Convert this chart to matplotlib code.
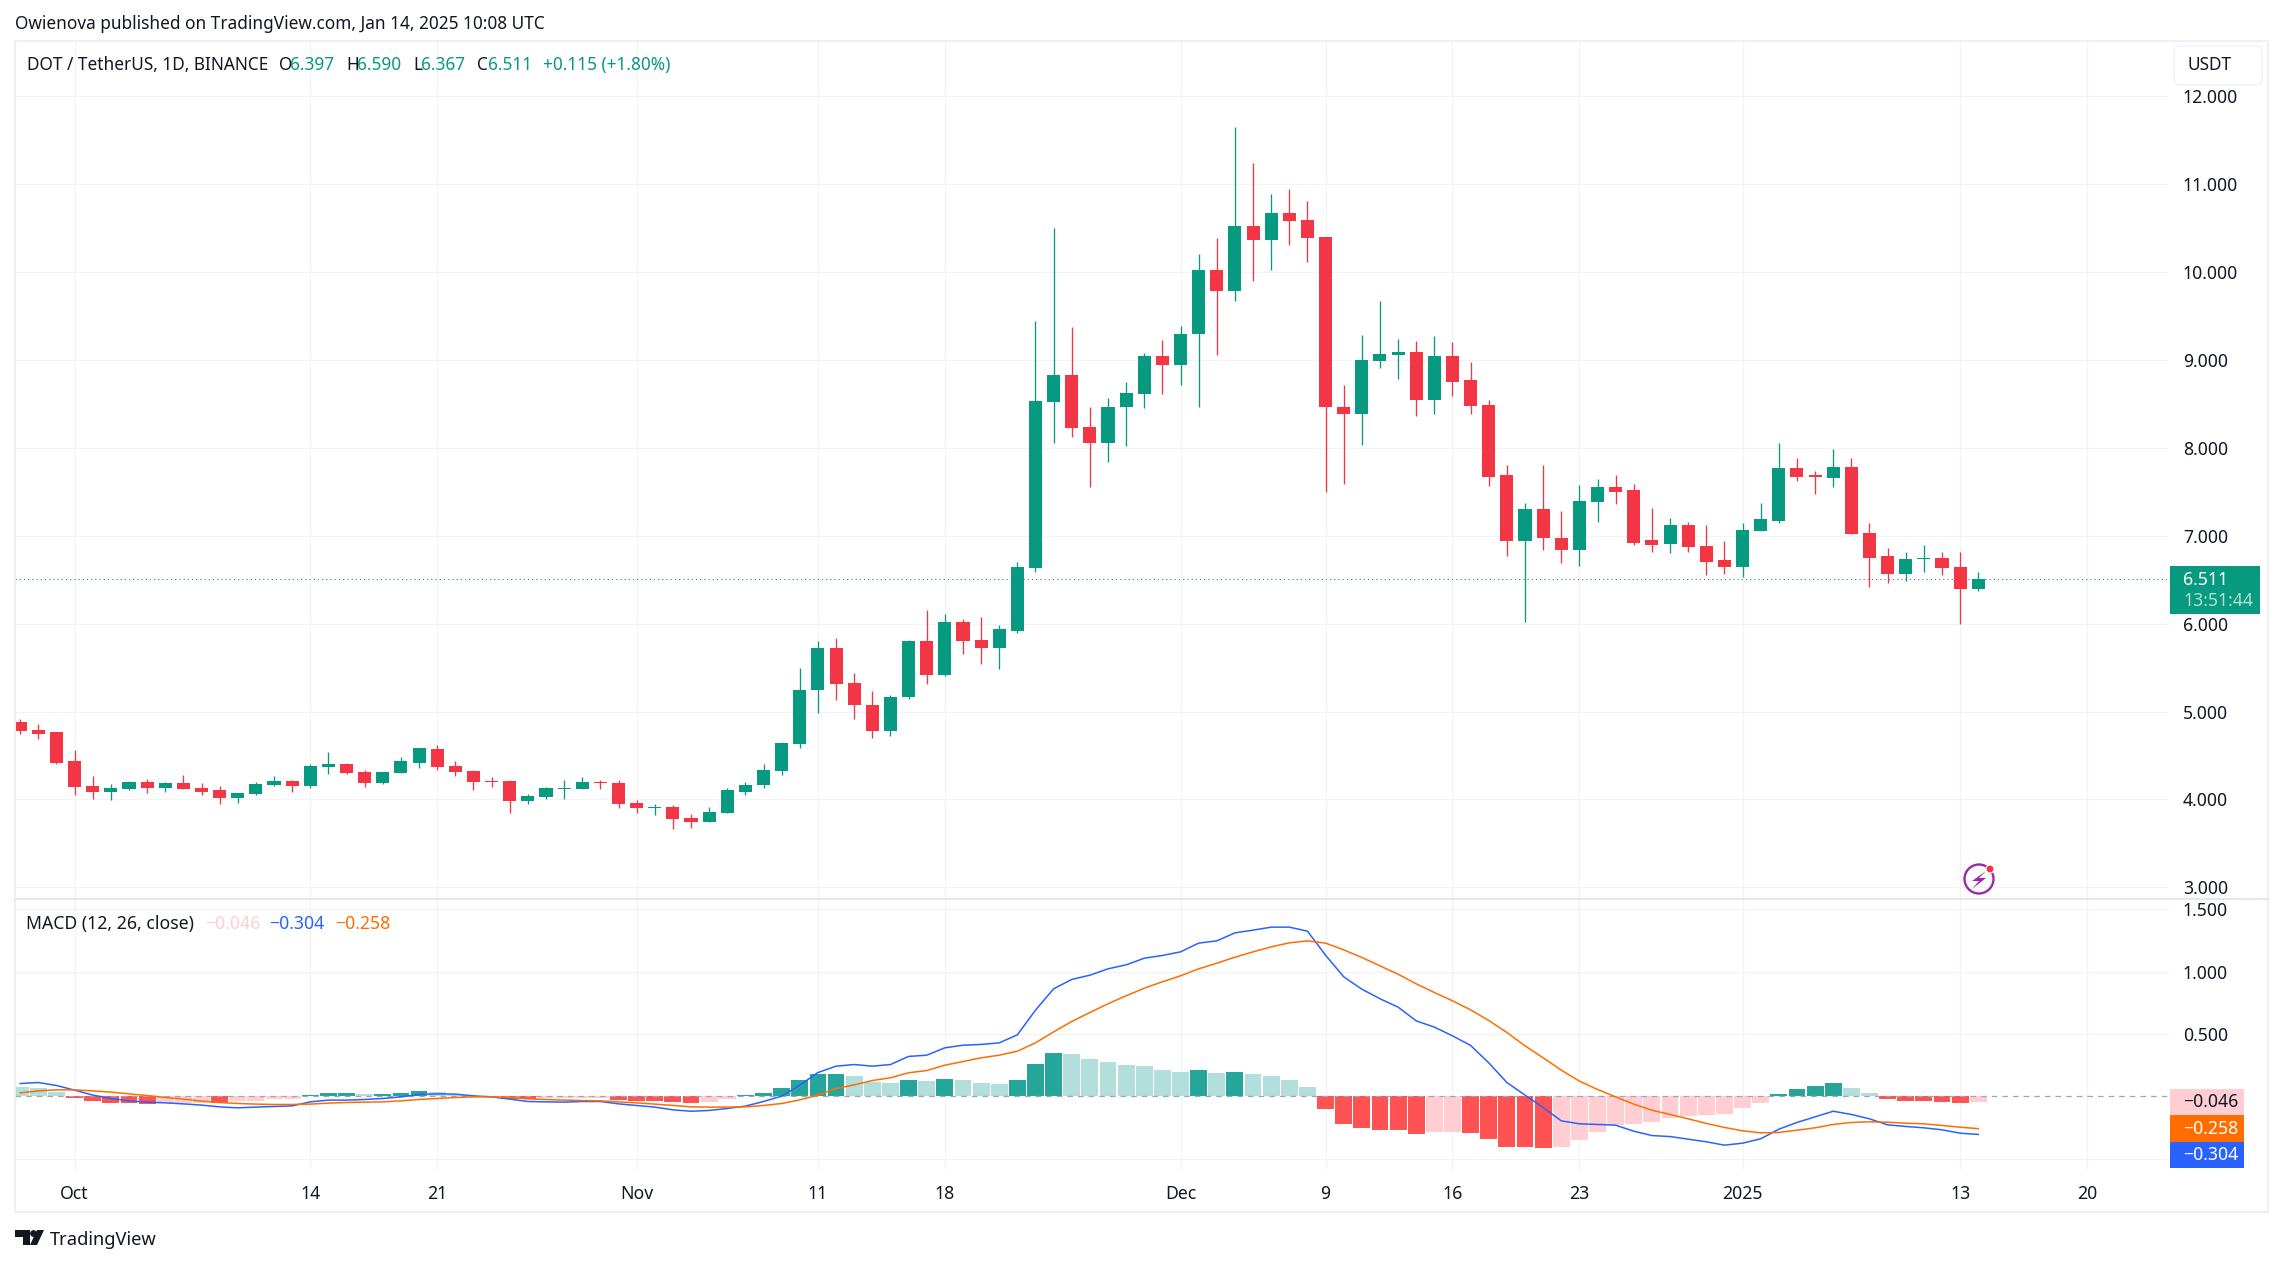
"""
plot.py
DOT / TetherUS daily candles with MACD pane, TradingView style
"""
import numpy as np
import pandas as pd
import matplotlib
matplotlib.use('Agg')
import matplotlib.pyplot as plt
from matplotlib.patches import Circle, FancyBboxPatch, Polygon, Rectangle

plt.rcParams['font.family'] = ['Noto Sans', 'DejaVu Sans']

# %% data, one value per day from Sep 28
days = pd.date_range('2024-09-28', '2025-01-14')

open_price = [4.88, 4.79, 4.77,
    4.44, 4.15, 4.09, 4.12, 4.20, 4.13, 4.185, 4.13, 4.11, 4.015, 4.06, 4.16, 4.21, 4.15, 4.37, 4.40,
    4.31, 4.185, 4.30, 4.42, 4.57, 4.38, 4.32, 4.21, 4.21, 3.98, 4.03, 4.12, 4.12, 4.20, 4.185,
    3.96, 3.90, 3.91, 3.79, 3.74, 3.84, 4.09, 4.16, 4.32, 4.63, 5.24, 5.72, 5.32, 5.08, 4.78, 5.16,
    5.80, 5.42, 6.02, 5.81, 5.72, 5.92, 6.63, 8.52, 8.83, 8.24, 8.06, 8.46, 8.61, 9.04,
    8.94, 9.29, 10.02, 9.78, 10.52, 10.37, 10.67, 10.59, 10.40, 8.47, 8.39, 8.99, 9.06, 9.09, 8.55,
    9.04, 8.77, 8.49, 7.69, 6.94, 7.30, 6.98, 6.84, 7.38, 7.56, 7.52, 6.95, 6.91, 7.12, 6.88, 6.72,
    6.64, 7.05, 7.17, 7.77, 7.69, 7.66, 7.78, 7.03, 6.77, 6.56, 6.74, 6.75, 6.64, 6.397]
high_price = [4.92, 4.86, 4.77,
    4.56, 4.265, 4.17, 4.21, 4.23, 4.20, 4.28, 4.185, 4.15, 4.07, 4.20, 4.265, 4.22, 4.40, 4.54, 4.41,
    4.34, 4.31, 4.48, 4.59, 4.62, 4.44, 4.33, 4.25, 4.22, 4.06, 4.14, 4.22, 4.25, 4.22, 4.22,
    3.99, 3.95, 3.935, 3.83, 3.91, 4.13, 4.20, 4.40, 4.65, 5.49, 5.80, 5.84, 5.44, 5.23, 5.19, 5.81,
    6.15, 6.11, 6.05, 6.08, 5.98, 6.70, 9.44, 10.50, 9.37, 8.47, 8.57, 8.75, 9.08, 9.23,
    9.39, 10.21, 10.39, 11.65, 11.24, 10.89, 10.94, 10.81, 10.40, 8.72, 9.28, 9.67, 9.24, 9.22, 9.27,
    9.21, 8.98, 8.55, 7.81, 7.37, 7.81, 7.28, 7.58, 7.65, 7.69, 7.59, 7.32, 7.20, 7.16, 7.12, 6.94,
    7.15, 7.37, 8.05, 7.89, 7.74, 7.99, 7.89, 7.14, 6.86, 6.82, 6.89, 6.82, 6.82, 6.590]
low_price = [4.74, 4.69, 4.40,
    4.05, 4.00, 3.99, 4.11, 4.07, 4.09, 4.12, 4.05, 3.95, 3.96, 4.05, 4.15, 4.08, 4.13, 4.29, 4.29,
    4.14, 4.17, 4.30, 4.355, 4.33, 4.265, 4.11, 4.14, 3.84, 3.95, 4.00, 4.00, 4.12, 4.12, 3.90,
    3.84, 3.82, 3.66, 3.67, 3.74, 3.84, 4.05, 4.13, 4.28, 4.59, 4.98, 5.13, 4.91, 4.70, 4.72, 5.14,
    5.31, 5.40, 5.66, 5.54, 5.48, 5.89, 6.59, 8.05, 8.12, 7.56, 7.84, 8.02, 8.45, 8.61,
    8.71, 8.46, 9.06, 9.67, 9.90, 10.02, 10.31, 10.11, 7.50, 7.59, 8.03, 8.91, 8.78, 8.36, 8.38,
    8.59, 8.39, 7.57, 6.77, 6.02, 6.84, 6.69, 6.66, 7.16, 7.36, 6.89, 6.82, 6.80, 6.82, 6.55, 6.57,
    6.53, 7.05, 7.14, 7.62, 7.47, 7.55, 7.02, 6.42, 6.46, 6.49, 6.59, 6.55, 6.00, 6.367]
close_price = [4.78, 4.75, 4.42,
    4.14, 4.09, 4.13, 4.20, 4.13, 4.185, 4.12, 4.09, 4.015, 4.07, 4.17, 4.21, 4.15, 4.38, 4.40, 4.30,
    4.185, 4.31, 4.44, 4.58, 4.37, 4.31, 4.20, 4.20, 3.98, 4.04, 4.13, 4.13, 4.20, 4.185, 3.95,
    3.90, 3.91, 3.775, 3.74, 3.855, 4.11, 4.16, 4.33, 4.64, 5.25, 5.72, 5.31, 5.07, 4.78, 5.17, 5.80,
    5.42, 6.02, 5.80, 5.72, 5.94, 6.64, 8.53, 8.83, 8.23, 8.06, 8.46, 8.62, 9.04, 8.94,
    9.30, 10.02, 9.78, 10.52, 10.37, 10.67, 10.58, 10.39, 8.46, 8.39, 9.00, 9.07, 9.09, 8.55, 9.04,
    8.75, 8.48, 7.67, 6.94, 7.30, 6.97, 6.84, 7.39, 7.56, 7.50, 6.92, 6.90, 7.12, 6.87, 6.70, 6.64,
    7.06, 7.19, 7.77, 7.67, 7.67, 7.78, 7.02, 6.75, 6.56, 6.74, 6.75, 6.63, 6.39, 6.511]

macd_hist = [0.075, 0.067, 0.035,
    -0.013, -0.037, -0.053, -0.053, -0.061, -0.053, -0.053, -0.053, -0.055, -0.037, -0.037, -0.02, -0.02,
    0.013, 0.027, 0.027, 0.02, 0.02, 0.027, 0.043, 0.035, 0.012, 0.005, -0.004, -0.02, -0.02, -0.013,
    -0.013, -0.013, -0.013, -0.03,
    -0.037, -0.037, -0.045, -0.053, -0.045, -0.02, 0.01, 0.027, 0.067, 0.13, 0.179, 0.179, 0.163, 0.115,
    0.107, 0.131, 0.123, 0.139, 0.131, 0.107, 0.099, 0.131, 0.259, 0.347, 0.339, 0.299, 0.275, 0.251,
    0.243, 0.211,
    0.195, 0.211, 0.187, 0.195, 0.179, 0.163, 0.131, 0.075, -0.10, -0.22, -0.25, -0.27, -0.27, -0.30,
    -0.285, -0.285, -0.295, -0.34, -0.405, -0.405, -0.415, -0.405, -0.35, -0.285, -0.23, -0.22, -0.205,
    -0.175, -0.158, -0.15, -0.14,
    -0.093, -0.053, 0.019, 0.059, 0.083, 0.107, 0.067, 0.027, -0.02, -0.037, -0.037, -0.045, -0.053, -0.046]
# d = strong colour, l = pale colour of each histogram bar
hist_shade = ('lll' + 'dddddllldllllddd' + 'ldddllllddlllld'
              + 'ddddlldddddd' + 'llldldlllddd' + 'llllll'
              + 'ldldlllldddddd' + 'llddddd' + 'llllllllll'
              + 'lldddd' + 'llddddd' + 'l')

macd_line = [0.104, 0.112, 0.088, 0.051, 0.011, -0.016, -0.035, -0.045, -0.051, -0.059, -0.069, -0.083,
    -0.091, -0.085, -0.080, -0.075, -0.043, -0.029, -0.029, -0.024, -0.016, -0.003, 0.016, 0.021, 0.019,
    0.005, -0.003, -0.021, -0.040, -0.043, -0.045, -0.040, -0.040, -0.059, -0.072, -0.085, -0.107, -0.118,
    -0.112, -0.096, -0.077, -0.040, 0.003, 0.091,
    0.192, 0.243, 0.256, 0.243, 0.256, 0.321, 0.331, 0.390, 0.411, 0.417, 0.430, 0.494, 0.692, 0.863,
    0.938, 0.972, 1.023, 1.055, 1.108, 1.130, 1.159, 1.229, 1.247, 1.311, 1.333, 1.357, 1.357, 1.325,
    1.132, 0.959, 0.860, 0.783, 0.716, 0.606, 0.556, 0.486, 0.409, 0.270, 0.112, 0.011, -0.088,
    -0.195, -0.219, -0.224, -0.230, -0.278, -0.313, -0.321, -0.342, -0.363, -0.390, -0.374, -0.339,
    -0.262, -0.208, -0.163, -0.118, -0.144, -0.179, -0.227, -0.240, -0.251, -0.267, -0.294, -0.304]
signal_line = [0.029, 0.045, 0.053, 0.053, 0.045, 0.035, 0.021, 0.008, -0.008, -0.021, -0.037, -0.048,
    -0.056, -0.061, -0.064, -0.064, -0.061, -0.053, -0.048, -0.045, -0.043, -0.035, -0.024, -0.016, -0.008,
    -0.003, -0.003, -0.008, -0.019, -0.024, -0.029, -0.032, -0.035, -0.043, -0.051, -0.061, -0.072, -0.083,
    -0.085, -0.085, -0.083, -0.072, -0.056, -0.027,
    0.011, 0.064, 0.093, 0.128, 0.150, 0.190, 0.208, 0.251, 0.280, 0.310, 0.331, 0.363, 0.430, 0.518,
    0.601, 0.673, 0.743, 0.807, 0.868, 0.919, 0.967, 1.023, 1.068, 1.116, 1.159, 1.199, 1.231, 1.247,
    1.229, 1.175, 1.114, 1.047, 0.980, 0.903, 0.833, 0.767, 0.694, 0.609, 0.513, 0.406, 0.310,
    0.211, 0.123, 0.056, -0.003, -0.061, -0.110, -0.144, -0.179, -0.216, -0.248, -0.275, -0.291,
    -0.288, -0.270, -0.251, -0.224, -0.208, -0.203, -0.206, -0.214, -0.219, -0.232, -0.246, -0.258]

price_ticks = [3, 4, 5, 6, 7, 8, 9, 10, 11, 12]
macd_ticks = [0.5, 1.0, 1.5]
tick_days = ['2024-10-01', '2024-10-14', '2024-10-21', '2024-11-01', '2024-11-11', '2024-11-18',
             '2024-12-01', '2024-12-09', '2024-12-16', '2024-12-23', '2025-01-01', '2025-01-13', '2025-01-20']
tick_text = ['Oct', '14', '21', 'Nov', '11', '18', 'Dec', '9', '16', '23', '2025', '13', '20']

# %% colours
UP = '#089981'
DOWN = '#F23645'
GRID = '#F3F3F5'
FRAME = '#EFF0F4'
TEXT = '#131722'
BLUE = '#2962FF'
ORANGE = '#FF6D00'
PINK = '#FFCDD2'

W, H = 2283, 1265
PANE_L, PANE_R = 15, 2169
FS = 12.7
HEAD = 12.4

day0 = pd.Timestamp('2024-10-01')
x = (days - day0).days.values
tick_x = [(pd.Timestamp(d) - day0).days for d in tick_days]

fig = plt.figure(figsize=(W / 100, H / 100), dpi=100, facecolor='white')


def pane(top, bottom):
    return fig.add_axes([PANE_L / W, 1 - bottom / H, (PANE_R - PANE_L) / W, (bottom - top) / H])


ax = pane(42, 899)
ax2 = pane(899, 1170)

for a in (ax, ax2):
    a.set_xlim(-3.287, 115.52)
    a.set_xticks(tick_x)
    a.grid(True, color=GRID, lw=0.9)
    a.set_axisbelow(True)
    a.yaxis.tick_right()
    a.tick_params(length=0, labelsize=FS, labelcolor=TEXT, pad=10)
    for s in a.spines.values():
        s.set_visible(False)

# %% candles
o = np.array(open_price)
c = np.array(close_price)
cols = [UP if ci >= oi else DOWN for oi, ci in zip(o, c)]

ax.set_ylim(2.867, 12.618)
ax.set_yticks(price_ticks)
ax.set_yticklabels(['%.3f' % t for t in price_ticks])
ax.tick_params(labelbottom=False)
ax.axhline(close_price[-1], color=UP, lw=0.72, ls=(0, (1.2, 3.0)), zorder=0.8)
ax.vlines(x, low_price, high_price, colors=cols, lw=0.95, zorder=1.5)
ax.bar(x, np.abs(c - o), bottom=np.minimum(o, c), width=0.72, color=cols, lw=0, zorder=2)

# %% macd
hist_cols = []
for v, s in zip(macd_hist, hist_shade):
    if v >= 0:
        hist_cols.append('#26A69A' if s == 'd' else '#B2DFDB')
    else:
        hist_cols.append('#FF5252' if s == 'd' else PINK)

ax2.set_ylim(-0.589, 1.5825)
ax2.set_yticks(macd_ticks)
ax2.set_yticklabels(['%.3f' % t for t in macd_ticks])
ax2.set_xticklabels(tick_text)
ax2.tick_params(axis='x', pad=10.5)
ax2.get_xticklabels()[tick_text.index('2025')].set_fontweight('bold')
ax2.axhline(-0.5, color=GRID, lw=0.9, zorder=0.5)
ax2.bar(x, macd_hist, width=0.93, color=hist_cols, lw=0, zorder=1)
ax2.axhline(0, color='#A3A6AF', lw=0.9, ls=(0, (4.5, 4)), zorder=1.5)
ax2.plot(x, macd_line, color=BLUE, lw=1.1, zorder=3)
ax2.plot(x, signal_line, color=ORANGE, lw=1.1, zorder=3)

# %% overlay in picture pixels for frame, header, badges and logos
ov = fig.add_axes([0, 0, 1, 1], zorder=5)
ov.set_xlim(0, W)
ov.set_ylim(H, 0)
ov.axis('off')
ov.patch.set_alpha(0)

ov.add_patch(Rectangle((14.5, 41), 2253.5, 1171, fill=False, ec=FRAME, lw=1.5))
ov.plot([15, 2268], [899, 899], color='#E0E3EB', lw=1.2)


def label(px, py, s, color=TEXT, size=FS, **kw):
    ov.text(px, py, s, color=color, fontsize=size, va='center', **kw)


label(15, 24, 'Owienova published on TradingView.com, Jan 14, 2025 10:08 UTC', size=HEAD)

label(27, 65, 'DOT / TetherUS, 1D, BINANCE', size=HEAD)
for px, s, col in [(279, 'O', TEXT), (290, '6.397', UP), (346, 'H', TEXT), (357, '6.590', UP),
                   (413, 'L', TEXT), (421, '6.367', UP), (477, 'C', TEXT), (488, '6.511', UP),
                   (543, '+0.115 (+1.80%)', UP)]:
    label(px, 65, s, color=col, size=HEAD)

label(26, 924, 'MACD (12, 26, close)', size=12.7)
for px, s, col in [(205, '\u22120.046', PINK), (269, '\u22120.304', BLUE), (335, '\u22120.258', ORANGE)]:
    label(px, 924, s, color=col, size=12.7)

# USDT button
ov.add_patch(FancyBboxPatch((2178, 50), 80, 31, boxstyle='round,pad=4,rounding_size=6',
                            fc='white', ec='#F0F3FA', lw=1.2))
label(2210, 65.5, 'USDT', size=HEAD, ha='center')

# last price badge
ov.add_patch(Rectangle((2170, 566), 90, 48, fc=UP, ec='none'))
label(2183, 580, '6.511', color='white', size=FS, fontweight='semibold')
label(2183, 601, '13:51:44', color='#B5E0D6', size=FS)

# macd value badges
for top, bottom, col, txt_col, s in [(1089, 1115, PINK, TEXT, '\u22120.046'),
                                     (1115, 1142, ORANGE, 'white', '\u22120.258'),
                                     (1142, 1168, BLUE, 'white', '\u22120.304')]:
    ov.add_patch(Rectangle((2170, top), 74, bottom - top, fc=col, ec='none'))
    label(2183, (top + bottom) / 2, s, color=txt_col, size=FS)

# purple bolt icon
ov.add_patch(Circle((1979, 879), 14.5, fill=False, ec='#9C27B0', lw=1.7))
ov.add_patch(Polygon([(1986, 871), (1972, 881), (1979, 881), (1972, 889), (1986, 878), (1979, 878)],
                     fc='#9C27B0', ec='none'))
ov.add_patch(Circle((1990, 869), 4, fc=DOWN, ec='white', lw=0.8))

# TradingView logo
ov.add_patch(Polygon([(15, 1230), (30, 1230), (30, 1245), (23, 1245), (23, 1237), (15, 1237)], fc=TEXT, ec='none'))
ov.add_patch(Circle((33.5, 1233.5), 3.4, fc=TEXT, ec='none'))
ov.add_patch(Polygon([(37, 1230), (44, 1230), (37, 1245), (30, 1245)], fc=TEXT, ec='none'))
label(50, 1240, 'TradingView', size=13.2)

fig.savefig('out.png', dpi=100)
